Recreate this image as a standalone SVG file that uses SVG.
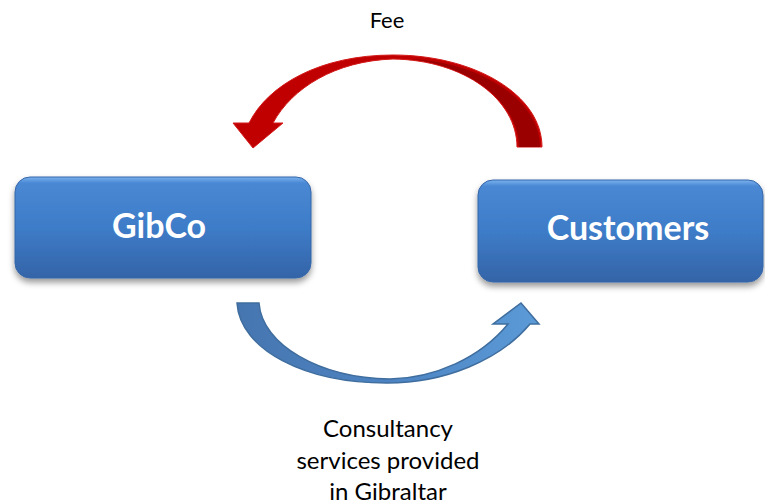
<svg xmlns="http://www.w3.org/2000/svg" width="765" height="504" viewBox="0 0 765 504">
  <defs>
    <linearGradient id="boxGrad" x1="0" y1="0" x2="0" y2="1">
      <stop offset="0" stop-color="#7ab2ee"/>
      <stop offset="0.06" stop-color="#4a88d4"/>
      <stop offset="0.5" stop-color="#3e7cc8"/>
      <stop offset="1" stop-color="#3464a8"/>
    </linearGradient>
    <linearGradient id="blueArrow" x1="0" y1="0" x2="1" y2="0">
      <stop offset="0" stop-color="#4676b0"/>
      <stop offset="0.5" stop-color="#4d83c2"/>
      <stop offset="1" stop-color="#5b9bd7"/>
    </linearGradient>
    <filter id="shadow" x="-10%" y="-20%" width="120%" height="150%">
      <feDropShadow dx="0" dy="4" stdDeviation="3" flood-color="#000" flood-opacity="0.4"/>
    </filter>
  </defs>
  <style>
    .box { fill: url(#boxGrad); stroke: #3566a8; stroke-width: 1; filter: url(#shadow); }
    .boxlabel { font-family: Lato, "Liberation Sans", sans-serif; font-weight: bold; font-size: 34px; fill: #ffffff; text-anchor: middle; }
    .label { font-family: Lato, "Liberation Sans", sans-serif; font-size: 24px; fill: #000000; text-anchor: middle; }
  </style>
  <rect width="765" height="504" fill="#ffffff"/>

  <g id="connectors">
    <g id="fee-arrow">
      <path d="M 542,147 C 542,95 475,55 393,55 C 320,55 268,85 249,123 L 233,123 L 253,148 L 283,123 L 273,123 C 292,88 335,61 393,59 C 465,60 517,100 517,147 Z" fill="#c00000" stroke="#d41a1a" stroke-width="1"/>
      <path d="M 410,59 C 480,62 540,100 540,147 L 519,147 C 519,104 472,66 410,59 Z" fill="#9a0000"/>
    </g>
    <g id="service-arrow">
      <path d="M 237,303 C 240,350 305,383 387,383 C 445,383 500,360 530,324 L 539,324 L 521,303 L 493,324 L 508,324 C 480,358 435,378 390,379 C 320,378 262,345 259,303 Z" fill="url(#blueArrow)" stroke="#3f6d9e" stroke-width="1.5" stroke-linejoin="miter"/>
    </g>
  </g>

  <g id="gibco">
    <rect class="box" x="15" y="177" width="296" height="101" rx="15" ry="15"/>
    <text class="boxlabel" x="159" y="238">GibCo</text>
  </g>

  <g id="customers">
    <rect class="box" x="478" y="180" width="285" height="102" rx="15" ry="15"/>
    <text class="boxlabel" x="628" y="240">Customers</text>
  </g>

  <g id="labels">
    <text class="label" x="387" y="28" style="font-size:22px">Fee</text>
    <text class="label" x="388" y="437">Consultancy</text>
    <text class="label" x="388" y="469">services provided</text>
    <text class="label" x="388" y="500">in Gibraltar</text>
  </g>
</svg>
